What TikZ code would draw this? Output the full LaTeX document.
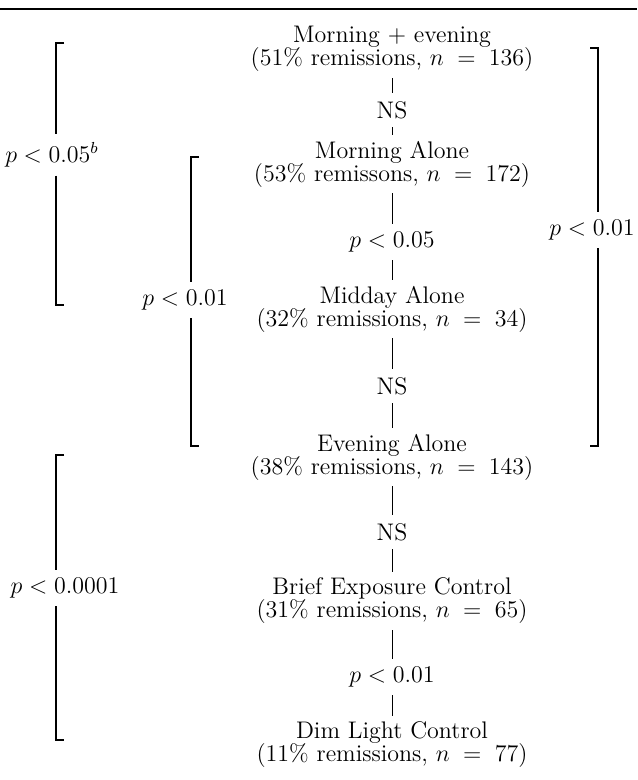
\documentclass[tikz,border=0pt]{standalone}
\usepackage{tikz}
\usetikzlibrary{positioning,calc}

\begin{document}
\begin{tikzpicture}[
x=0.5pt,
y=-0.5pt,
group/.style={
  align=center,
  inner sep=3pt,
  font=\fontsize{12}{11.5}\selectfont
  },
test/.style={
  inner sep=4pt,
  font=\fontsize{12}{12}\selectfont
  },
bar/.style={
  line width=0.5pt
  },
brace/.style={
  line width=0.8pt
  }
]
\useasboundingbox (0,0) rectangle (637,780);

% rule above the figure
\coordinate (rulel) at (0,9);
\coordinate (ruler) at (637,9);
\draw[line width=1pt] (rulel) -- (ruler);

% conditions
\node[group] (morneve) at (392,49) {Morning + evening\\(51\% remissions, $n \;=\; 136$)};
\node[test] (ns1) at (392,110) {NS};
\node[group] (morn) at (392,164) {Morning Alone\\(53\% remissons, $n \;=\; 172$)};
\node[test] (pa) at (392,242) {$p < 0.05$};
\node[group] (midday) at (392,309) {Midday Alone\\(32\% remissions, $n \;=\; 34$)};
\node[test] (ns2) at (392,386) {NS};
\node[group] (even) at (392,457) {Evening Alone\\(38\% remissions, $n \;=\; 143$)};
\node[test] (ns3) at (392,532) {NS};
\node[group] (brief) at (392,601) {Brief Exposure Control\\(31\% remissions, $n \;=\; 65$)};
\node[test] (pb) at (392,677) {$p < 0.01$};
\node[group] (dim) at (392,745) {Dim Light Control\\(11\% remissions, $n \;=\; 77$)};

\foreach \a/\b in {morneve/ns1,ns1/morn,morn/pa,pa/midday,midday/ns2,ns2/even,even/ns3,ns3/brief,brief/pb,pb/dim}
  \draw[bar] (\a) -- (\b);

% brackets
\node[test] (sig1) at (52,155) {$p < 0.05^b$};
\node[test] (sig2) at (185,300) {$p < 0.01$};
\node[test] (sig3) at (592,230) {$p < 0.01$};
\node[test] (sig4) at (65,588) {$p < 0.0001$};

\foreach \s/\x/\ya/\yb/\d in {1/56/43/305/8,2/191/157/446/8,3/598/48/446/-8,4/56/455/740/8}
{
  \coordinate (top\s) at (\x,\ya);
  \coordinate (bot\s) at (\x,\yb);
  \draw[brace] ([xshift=\d*0.5pt]top\s) -- (top\s) -- (top\s |- sig\s.north);
  \draw[brace] (bot\s |- sig\s.south) -- (bot\s) -- ([xshift=\d*0.5pt]bot\s);
}

\end{tikzpicture}
\end{document}
